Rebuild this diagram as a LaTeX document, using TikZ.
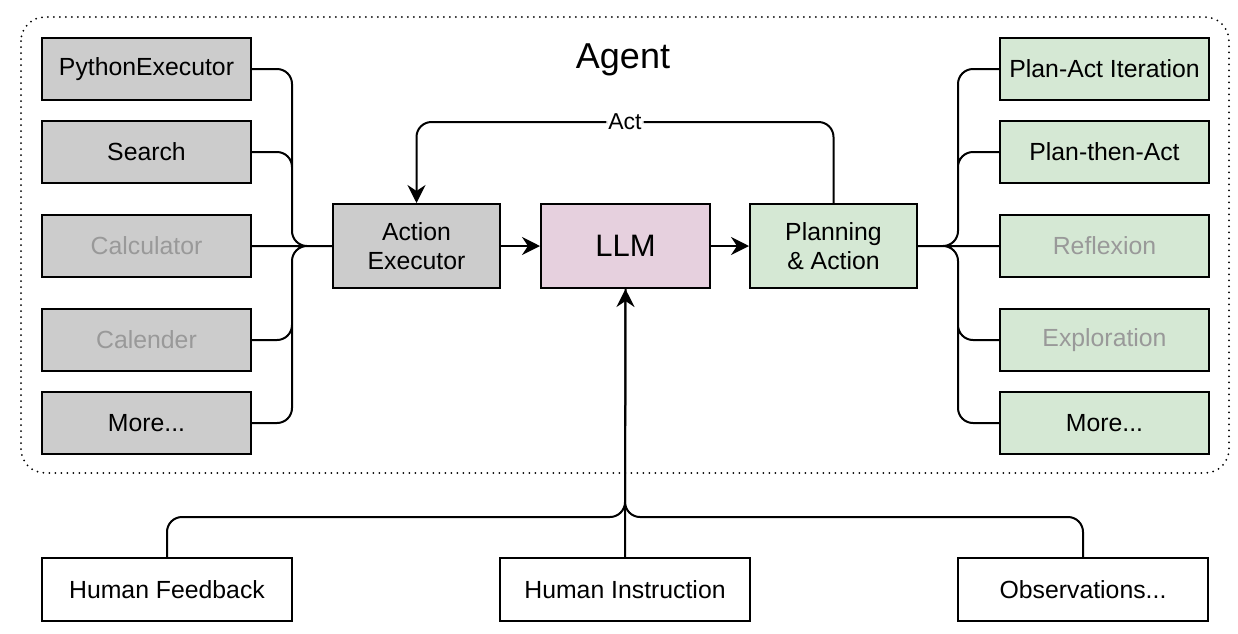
\documentclass[tikz,border=0pt]{standalone}
\usepackage{fontspec}
\setmainfont{Liberation Sans}
\usepackage{tikz}
\usetikzlibrary{positioning, arrows.meta, calc}
\usepackage{xcolor}
\definecolor{toolgray}{HTML}{CCCCCC}
\definecolor{llmpink}{HTML}{E6D0DE}
\definecolor{plangreen}{HTML}{D5E8D4}
\definecolor{mutedtext}{HTML}{999999}

\begin{document}
\begin{tikzpicture}[
    x=0.5pt, y=-0.5pt,
    box/.style={draw, line width=1pt, minimum width=104.5pt, minimum height=31pt,
        inner sep=0pt, align=center, font=\fontsize{12.4}{14.5}\selectfont},
    tool/.style={box, fill=toolgray},
    plan/.style={box, fill=plangreen},
    core/.style={box, minimum width=83.5pt, minimum height=42pt},
    human/.style={box, fill=white, minimum width=125pt, minimum height=31.5pt},
    muted/.style={text=mutedtext},
    link/.style={draw, line width=1pt, rounded corners=7.5pt},
    tip/.style={-{Stealth[length=9pt, width=9pt, inset=3pt]}}
]
    \useasboundingbox (0,0) rectangle (1238,633);

    % Agent frame and title.
    \draw[line width=1pt, line cap=round, dash pattern=on 0pt off 3pt, rounded corners=12pt]
        (21,17) rectangle (1229,473);
    \node[font=\fontsize{18}{20}\selectfont] (agent) at (623,60) {Agent};

    % Tools on the left.
    \node[tool] (py) at (146.5,69) {PythonExecutor};
    \node[tool] (srch) at (146.5,152) {Search};
    \node[tool, muted] (calc) at (146.5,246) {Calculator};
    \node[tool, muted] (cal) at (146.5,340) {Calender};
    \node[tool] (moreL) at (146.5,423) {More...};

    % Core chain.
    \node[core, fill=toolgray] (ae) at (416.5,246) {Action\\Executor};
    \node[core, fill=llmpink, minimum width=84.5pt, font=\fontsize{15.5}{17}\selectfont] (llm) at (625.5,246) {LLM};
    \node[core, fill=plangreen] (pa) at (833.5,246) {Planning\\\& Action};

    % Planning strategies on the right.
    \node[plan] (pai) at (1104.5,69) {Plan-Act Iteration};
    \node[plan] (pta) at (1104.5,152) {Plan-then-Act};
    \node[plan, muted] (refl) at (1104.5,246) {Reflexion};
    \node[plan, muted] (expl) at (1104.5,340) {Exploration};
    \node[plan] (moreR) at (1104.5,423) {More...};

    % Inputs below.
    \node[human] (hf) at (167,589.5) {Human Feedback};
    \node[human] (hi) at (625,589.5) {Human Instruction};
    \node[human] (obs) at (1083,589.5) {Observations...};

    \coordinate (lbus) at (292,246);
    \coordinate (rbus) at (958,246);
    \coordinate (bbus) at (625,517);
    \coordinate (acttop) at (625,122);

    \path[link]
        (py.east) -| (lbus) -- (ae.west)
        (srch.east) -| (lbus) -- (ae.west)
        (calc.east) -- (ae.west)
        (cal.east) -| (lbus) -- (ae.west)
        (moreL.east) -| (lbus) -- (ae.west);

    \path[link]
        (pa.east) -- (rbus) |- (pai.west)
        (pa.east) -- (rbus) |- (pta.west)
        (pa.east) -- (refl.west)
        (pa.east) -- (rbus) |- (expl.west)
        (pa.east) -- (rbus) |- (moreR.west);

    \draw[link, tip] (ae.east) -- (llm.west);
    \draw[link, tip] (llm.east) -- (pa.west);
    \draw[link, tip] (pa.north) |- (acttop)
        node[fill=white, inner sep=1pt, font=\fontsize{11.5}{12}\selectfont] {Act} -| (ae.north);

    \path[link]
        (hf.north) |- (bbus) -- (llm.south)
        (obs.north) |- (bbus) -- (llm.south);
    \draw[link, tip] (hi.north) -- (llm.south);
\end{tikzpicture}
\end{document}
